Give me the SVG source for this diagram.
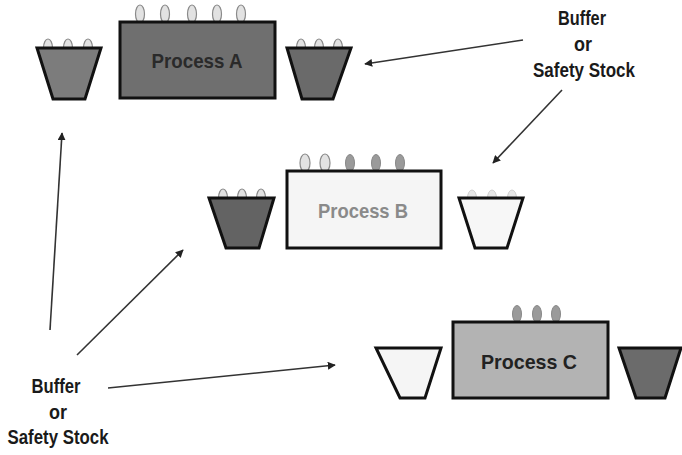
<svg xmlns="http://www.w3.org/2000/svg" width="682" height="455" viewBox="0 0 682 455">
  <style>
    .box { stroke: #111; stroke-width: 3; }
    .bucket { stroke: #111; stroke-width: 3; stroke-linejoin: miter; }
    .ball-w { fill: #e2e2e2; stroke: #8a8a8a; stroke-width: 1.2; }
    .ball-g { fill: #9a9a9a; stroke: #888; stroke-width: 1; }
    .ball-f { fill: #e6e6e6; stroke: #d0d0d0; stroke-width: 1; }
    .lbl { font-family: "Liberation Sans", Arial, sans-serif; font-weight: bold; font-size: 21px; text-anchor: middle; }
    .proc { font-family: "Liberation Sans", Arial, sans-serif; font-weight: bold; font-size: 21px; text-anchor: middle; }
    .conn { stroke: #333; stroke-width: 1.6; fill: none; marker-end: url(#arrow); }
  </style>
  <defs>
    <marker id="arrow" viewBox="0 0 10 10" refX="9" refY="5" markerWidth="5" markerHeight="5" orient="auto" markerUnits="strokeWidth">
      <path d="M0,0 L10,5 L0,10 z" fill="#222"/>
    </marker>
  </defs>
  <rect width="682" height="455" fill="#fff"/>

  <!-- Process A row -->
  <g id="bufferA-in">
    <ellipse class="ball-w" cx="48" cy="48" rx="4.5" ry="9"/>
    <ellipse class="ball-w" cx="68" cy="48" rx="4.5" ry="9"/>
    <ellipse class="ball-w" cx="88" cy="48" rx="4.5" ry="9"/>
    <polygon class="bucket" points="37,48 101,48 85,99 53,99" fill="#7c7c7c"/>
  </g>
  <g id="processA">
    <ellipse class="ball-w" cx="140" cy="14" rx="4.5" ry="9"/>
    <ellipse class="ball-w" cx="165" cy="14" rx="4.5" ry="9"/>
    <ellipse class="ball-w" cx="192" cy="14" rx="4.5" ry="9"/>
    <ellipse class="ball-w" cx="217" cy="14" rx="4.5" ry="9"/>
    <ellipse class="ball-w" cx="241" cy="14" rx="4.5" ry="9"/>
    <rect class="box" x="120" y="22" width="155" height="76" fill="#6f6f6f"/>
    <text class="proc" x="197" y="68" fill="#2a2a2a" textLength="91" lengthAdjust="spacingAndGlyphs">Process A</text>
  </g>
  <g id="bufferA-out">
    <ellipse class="ball-w" cx="301" cy="48" rx="4.5" ry="9"/>
    <ellipse class="ball-w" cx="319" cy="48" rx="4.5" ry="9"/>
    <ellipse class="ball-w" cx="338" cy="48" rx="4.5" ry="9"/>
    <polygon class="bucket" points="287,48 351,48 333,99 302,99" fill="#6a6a6a"/>
  </g>

  <!-- Process B row -->
  <g id="bufferB-in">
    <ellipse class="ball-w" cx="223" cy="198" rx="4.5" ry="9"/>
    <ellipse class="ball-w" cx="242" cy="198" rx="4.5" ry="9"/>
    <ellipse class="ball-w" cx="261" cy="198" rx="4.5" ry="9"/>
    <polygon class="bucket" points="209,198 274,198 259,248 226,248" fill="#636363"/>
  </g>
  <g id="processB">
    <ellipse class="ball-w" cx="305" cy="163" rx="5" ry="9"/>
    <ellipse class="ball-w" cx="325" cy="163" rx="5" ry="9"/>
    <ellipse class="ball-g" cx="350" cy="163" rx="4.5" ry="8.5"/>
    <ellipse class="ball-g" cx="376" cy="163" rx="4.5" ry="8.5"/>
    <ellipse class="ball-g" cx="400" cy="163" rx="4.5" ry="8.5"/>
    <rect class="box" x="287" y="171" width="154" height="77" fill="#f5f5f5"/>
    <text class="proc" x="363" y="218" fill="#8a8a8a" textLength="90" lengthAdjust="spacingAndGlyphs">Process B</text>
  </g>
  <g id="bufferB-out">
    <ellipse class="ball-f" cx="472" cy="198" rx="4.5" ry="8"/>
    <ellipse class="ball-f" cx="492" cy="198" rx="4.5" ry="8"/>
    <ellipse class="ball-f" cx="512" cy="198" rx="4.5" ry="8"/>
    <polygon class="bucket" points="459,198 523,198 507,248 475,248" fill="#f7f7f7"/>
  </g>

  <!-- Process C row -->
  <g id="bufferC-in">
    <polygon class="bucket" points="376,348 441,348 425,398 400,398" fill="#f5f5f5"/>
  </g>
  <g id="processC">
    <ellipse class="ball-g" cx="517" cy="314" rx="4.5" ry="8.5" fill="#8a8a8a"/>
    <ellipse class="ball-g" cx="537" cy="314" rx="4.5" ry="8.5" fill="#8a8a8a"/>
    <ellipse class="ball-g" cx="556" cy="314" rx="4.5" ry="8.5" fill="#8a8a8a"/>
    <rect class="box" x="453" y="322" width="155" height="76" fill="#b3b3b3"/>
    <text class="proc" x="529" y="369" fill="#222" textLength="96" lengthAdjust="spacingAndGlyphs">Process C</text>
  </g>
  <g id="bufferC-out">
    <polygon class="bucket" points="619,348 681,348 665,398 636,398" fill="#6b6b6b"/>
  </g>

  <!-- Labels -->
  <g id="label-top">
    <text class="lbl" x="582" y="25" fill="#1a1a1a" textLength="48" lengthAdjust="spacingAndGlyphs">Buffer</text>
    <text class="lbl" x="583" y="51" fill="#1a1a1a" textLength="18" lengthAdjust="spacingAndGlyphs">or</text>
    <text class="lbl" x="584" y="77" fill="#1a1a1a" textLength="102" lengthAdjust="spacingAndGlyphs">Safety Stock</text>
  </g>
  <g id="label-bottom">
    <text class="lbl" x="56" y="393" fill="#1a1a1a" textLength="49" lengthAdjust="spacingAndGlyphs">Buffer</text>
    <text class="lbl" x="58" y="419" fill="#1a1a1a" textLength="18" lengthAdjust="spacingAndGlyphs">or</text>
    <text class="lbl" x="58" y="444" fill="#1a1a1a" textLength="101" lengthAdjust="spacingAndGlyphs">Safety Stock</text>
  </g>

  <!-- Connectors -->
  <g id="connectors">
    <line class="conn" x1="523" y1="40" x2="365" y2="64"/>
    <line class="conn" x1="562" y1="90" x2="493" y2="163"/>
    <line class="conn" x1="50" y1="330" x2="62" y2="133"/>
    <line class="conn" x1="77" y1="355" x2="183" y2="250"/>
    <line class="conn" x1="108" y1="388" x2="335" y2="365"/>
  </g>
</svg>
